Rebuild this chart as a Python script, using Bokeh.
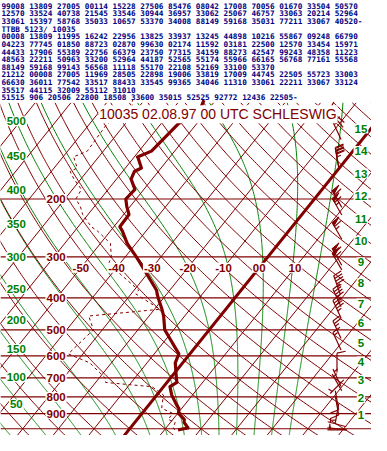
import numpy as np
from bokeh.plotting import figure
from bokeh.models import Label, ColumnDataSource
from bokeh.core.properties import value
from bokeh.embed import file_html
from bokeh.resources import INLINE

temp_p = [1008, 1000, 995, 956, 937, 898, 867, 850, 790, 745, 723, 700, 630, 592, 500,
          454, 433, 400, 389, 379, 315, 300, 273, 250, 243, 223, 211, 200, 187, 174,
          165, 161, 150, 149, 143, 118, 108, 100]
temp_t = [13.8, 15.2, 16.2, 13.8, 13.2, 10.2, 9.2, 8.0, 4.2, 1.8, 2.8, 1.6, -2.1, -3.1, -12.5,
          -15.9, -17.9, -21.5, -22.7, -23.7, -34.1, -36.9, -42.5, -46.7, -48.3, -48.5, -50.9, -52.9, -52.5, -55.9,
          -56.7, -55.5, -58.7, -59.1, -56.5, -55.1, -52.1, -53.3]
dewp_td = [12.9, 12.4, 12.0, 11.3, 8.7, 8.6, 4.4, 3.8, 1.9, -3.2, -17.2, -18.4, -26.1, -34.1, -32.5,
           -36.9, -18.5, -26.0, -28.7, -28.7, -43.1, -43.9, -47.2, -53.7, -56.3, -61.5, -63.9, -66.9, -67.5, -71.9,
           -74.7, -73.5, -76.7, -77.1, -74.5, -75.1, -71.1, -73.3]

wind_p = [1008, 1000, 969, 898, 850, 819, 745, 723, 700, 630, 542, 500, 433, 400, 365,
          310, 300, 250, 211, 200, 150, 149, 124, 115, 112]
wind_dir = [270, 275, 285, 190, 170, 170, 225, 330, 335, 360, 335, 335, 335, 335, 340,
            330, 330, 330, 330, 330, 350, 350, 335, 320, 310]
wind_kt = [5, 6, 5, 6, 8, 9, 5, 3, 4, 11, 17, 24, 45, 46, 46,
           61, 62, 63, 67, 61, 33, 31, 17, 9, 10]

pressure_levels = [200, 300, 400, 500, 600, 700, 800, 900, 1000]
pressure_labels = [200, 300, 400, 500, 600, 700, 800, 900]
isotherm_labels = [-50, -40, -30, -20, -10, 0, 10]
isotherm_label_text = ["-50", "-40", "-30", "-20", "-10", "00", "10"]
flight_levels = [50, 100, 150, 200, 250, 300, 350, 400, 450, 500]
km_levels = list(range(1, 16))
moist_thetaw = [-35, -25, -15, -5, 5, 10, 15, 20, 25, 30, 35, 40, 45]

title_text = "10035 02.08.97 00 UTC SCHLESWIG"
message_lines = [
    "99008 13809 27005 00114 15228 27506 85476 08042 17008 70056 01670 33504 50570",
    "12570 33524 40738 21545 33546 30944 36957 33062 25067 46757 33063 20214 52964",
    "33061 15397 58768 35033 10657 53370 34008 88149 59168 35031 77211 33067 40520-",
    "TTBB 5123/ 10035",
    "00008 13809 11995 16242 22956 13825 33937 13245 44898 10216 55867 09248 66790",
    "04223 77745 01850 88723 02870 99630 02174 11592 03181 22500 12570 33454 15971",
    "44433 17906 55389 22756 66379 23750 77315 34159 88273 42547 99243 48358 11223",
    "48563 22211 50963 33200 52964 44187 52565 55174 55966 66165 56768 77161 55568",
    "88149 59168 99143 56568 11118 55170 22108 52169 33100 53370",
    "21212 00008 27005 11969 28505 22898 19006 33819 17009 44745 22505 55723 33003",
    "66630 36011 77542 33517 88433 33545 99365 34046 11310 33061 22211 33067 33124",
    "35517 44115 32009 55112 31010",
    "51515 906 20506 22800 18508 33600 35015 52525 92772 12436 22505-",
]

# ---------------- skew-T / log-p transform ----------------
W, H = 387.0, 451.0
PX_LN = 148.0       # pixels per ln(p)
SKEW = 0.809        # horizontal shift per vertical pixel
PX_DEG = 3.72       # pixels per degC
X0 = 134.8          # x of 0 degC at 1000 hPa
Y0 = 7.0            # y of 1000 hPa (from bottom)


def Y(p):
    return Y0 + PX_LN * np.log(1000.0 / np.asarray(p, dtype=float))


def X(t, p):
    return X0 + PX_DEG * np.asarray(t, dtype=float) + SKEW * PX_LN * np.log(1000.0 / np.asarray(p, dtype=float))


def isa_pressure(h):
    h = float(h)
    if h <= 11000:
        return 1013.25 * (1 - 0.0065 * h / 288.15) ** 5.25588
    return 226.32 * np.exp(-(h - 11000) / 6341.62)


DARK = "#800000"
GREEN = "#008000"
NAVY = "#000080"

p = figure(width=371, height=435, x_range=(0, W), y_range=(0, H),
           x_axis_type=None, y_axis_type=None, output_backend="svg",
           toolbar_location=None, min_border=0)
p.grid.visible = False
p.outline_line_color = None
p.background_fill_color = "white"
p.border_fill_color = "white"

P_TOP, P_BOT = 102.0, 1050.0
pc = np.exp(np.linspace(np.log(P_BOT), np.log(P_TOP), 160))

# moist (pseudo) adiabats
Rd, cp, Lv, eps = 287.04, 1005.7, 2.501e6, 0.622


def dTdp(pp, T):
    tc = T - 273.15
    es = 6.112 * np.exp(17.67 * tc / (tc + 243.5))
    rs = eps * es / (pp - es)
    return (Rd * T + Lv * rs) / (pp * (cp + Lv * Lv * rs * eps / (Rd * T * T)))


def integrate(T0, p_from, p_to, n=300):
    ps = np.linspace(p_from, p_to, n)
    Ts = [T0]
    T = T0
    for i in range(n - 1):
        h = ps[i + 1] - ps[i]
        pp = ps[i]
        k1 = dTdp(pp, T)
        k2 = dTdp(pp + h / 2, T + h / 2 * k1)
        k3 = dTdp(pp + h / 2, T + h / 2 * k2)
        k4 = dTdp(pp + h, T + h * k3)
        T = T + h / 6 * (k1 + 2 * k2 + 2 * k3 + k4)
        Ts.append(T)
    return ps, np.array(Ts)


mx, my = [], []
for tw in moist_thetaw:
    pu, tu = integrate(tw + 273.15, 1000.0, P_TOP, 400)
    pd, td = integrate(tw + 273.15, 1000.0, P_BOT, 30)
    pp = np.concatenate([pd[::-1], pu[1:]])
    tt = np.concatenate([td[::-1], tu[1:]]) - 273.15
    mx.append(list(X(tt, pp)))
    my.append(list(Y(pp)))
p.multi_line(mx, my, line_color=GREEN, line_width=1)

# dry adiabats
dx, dy = [], []
for th in range(-50, 260, 10):
    T = (th + 273.15) * (pc / 1000.0) ** 0.2857 - 273.15
    dx.append(list(X(T, pc)))
    dy.append(list(Y(pc)))
p.multi_line(dx, dy, line_color=DARK, line_width=1)

# isotherms
ix, iy = [], []
for t in range(-110, 80, 10):
    if t == 0:
        continue
    ix.append([float(X(t, P_BOT)), float(X(t, P_TOP))])
    iy.append([float(Y(P_BOT)), float(Y(P_TOP))])
p.multi_line(ix, iy, line_color=DARK, line_width=1)

# pressure lines
yl = [float(Y(v)) for v in pressure_levels]
p.segment(x0=[0] * len(yl), y0=yl, x1=[W] * len(yl), y1=yl, line_color=DARK, line_width=1.2)

# 0 degC isotherm
p.line([float(X(0, P_BOT)), float(X(0, P_TOP))], [float(Y(P_BOT)), float(Y(P_TOP))],
       line_color=DARK, line_width=3)

# sounding
p.line(X(temp_t, temp_p), Y(temp_p), line_color=DARK, line_width=3.2, line_join="round")
p.line(X(dewp_td, temp_p), Y(temp_p), line_color=DARK, line_width=1, line_dash="3 3")

# wind barbs
BX = 351.0
HALF = 10.0
FL = 9.0
bxs, bys, pxs, pys = [], [], [], []
for pr, d, s in zip(wind_p, wind_dir, wind_kt):
    cy = float(Y(pr))
    r = np.deg2rad(d)
    ux, uy = np.sin(r), np.cos(r)
    nx, ny = uy, -ux
    bxs.append([BX - HALF * ux, BX + HALF * ux])
    bys.append([cy - HALF * uy, cy + HALF * uy])
    s5 = int(round(s / 5.0)) * 5
    npen = s5 // 50
    rem = s5 - 50 * npen
    nfull = rem // 10
    half = (rem % 10) == 5
    t = HALF
    for _ in range(npen):
        ax, ay = BX + t * ux, cy + t * uy
        bx2, by2 = BX + (t - 4) * ux, cy + (t - 4) * uy
        pxs.append([ax, ax + FL * nx + 1.5 * ux, bx2])
        pys.append([ay, ay + FL * ny + 1.5 * uy, by2])
        t -= 5
    if npen == 0 and nfull == 0 and half:
        t -= 3
    for _ in range(nfull):
        ax, ay = BX + t * ux, cy + t * uy
        bxs.append([ax, ax + FL * nx + 2 * ux])
        bys.append([ay, ay + FL * ny + 2 * uy])
        t -= 3
    if half:
        ax, ay = BX + t * ux, cy + t * uy
        bxs.append([ax, ax + 0.5 * FL * nx + 1 * ux])
        bys.append([ay, ay + 0.5 * FL * ny + 1 * uy])
p.multi_line(bxs, bys, line_color=DARK, line_width=1.2)
p.patches(pxs, pys, fill_color=DARK, line_color=DARK, line_width=1)

# message text block
mys = [H - (6 + 7.9 * i) for i in range(len(message_lines))]
src = ColumnDataSource(dict(x=[1] * len(message_lines), y=mys, text=message_lines))
p.text(x="x", y="y", text="text", source=src, text_font=value("DejaVu Sans Mono"),
       text_font_size="7.7px", text_font_style="bold", text_color=NAVY,
       text_baseline="middle", text_align="left")

LBL_FONT = "Liberation Sans"


def add_label(x, y, text, color, size="11.5px", bold=True, align="center"):
    p.add_layout(Label(x=x, y=y, text=text, text_color=color, text_font=LBL_FONT,
                       text_font_size=size, text_font_style="bold" if bold else "normal",
                       text_align=align, text_baseline="middle",
                       background_fill_color="white", padding=1))


for pl in pressure_labels:
    add_label(58, float(Y(pl)), str(pl), DARK)

P_TLAB = 323.6
for t, txt in zip(isotherm_labels, isotherm_label_text):
    add_label(float(X(t, P_TLAB)), float(Y(P_TLAB)), txt, DARK)

for fl in flight_levels:
    pp = isa_pressure(fl * 100 * 0.3048)
    add_label(16.5, float(Y(pp)), str(fl), GREEN)

for km in km_levels:
    pp = isa_pressure(km * 1000.0)
    add_label(376, float(Y(pp)) - 2, str(km), GREEN)

p.add_layout(Label(x=102, y=H - 118, text=title_text, text_color=DARK, text_font=LBL_FONT,
                   text_font_size="14px", text_align="left", text_baseline="middle",
                   background_fill_color="white", padding=1))

open("out.html", "w").write(file_html(p, INLINE))
